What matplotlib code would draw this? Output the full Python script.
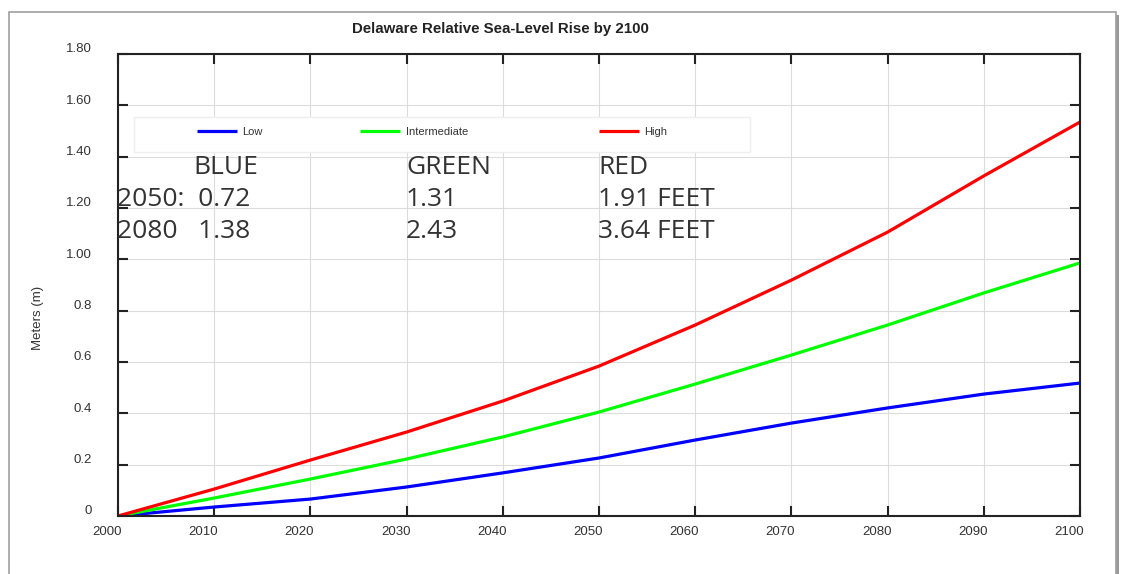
import matplotlib.pyplot as plt
from matplotlib.patches import Rectangle
from matplotlib.legend import Legend
from matplotlib.transforms import ScaledTranslation

# Data (meters)
years = [2000, 2010, 2020, 2030, 2040, 2050, 2060, 2070, 2080, 2090, 2100]
low = [0.0, 0.035, 0.066, 0.113, 0.168, 0.226, 0.296, 0.362, 0.421, 0.475, 0.518]
intermediate = [0.0, 0.070, 0.144, 0.222, 0.308, 0.405, 0.514, 0.627, 0.744, 0.869, 0.986]
high = [0.0, 0.105, 0.218, 0.327, 0.448, 0.584, 0.744, 0.919, 1.106, 1.325, 1.535]

ytick_vals = [0, 0.2, 0.4, 0.6, 0.8, 1.0, 1.2, 1.4, 1.6, 1.8]
ytick_labels = ['0', '0.2', '0.4', '0.6', '0.8', '1.00', '1.20', '1.40', '1.60', '1.80']
xtick_vals = list(range(2000, 2101, 10))

# annotation table (feet)
col_heads = ['BLUE', 'GREEN', 'RED']
row_2050 = ['2050:  0.72', '1.31', '1.91 FEET']
row_2080 = ['2080   1.38', '2.43', '3.64 FEET']

W, H = 1121, 574
fig = plt.figure(figsize=(W / 100, H / 100), dpi=100)
plt.rcParams['font.family'] = ['Liberation Sans', 'DejaVu Sans']

def px(x, y):
    # pixel coords (from top-left) -> figure fraction
    return x / W, 1 - y / H

# outer frame with a little shadow on the right
fig.patches.append(Rectangle(px(12, 590), (1119 - 12) / W, (590 - 15) / H,
                             transform=fig.transFigure, facecolor='#9a9a9a',
                             edgecolor='none', zorder=-2))
fig.patches.append(Rectangle(px(9, 590), (1116 - 9) / W, (590 - 12) / H,
                             transform=fig.transFigure, facecolor='white',
                             edgecolor='#a0a0a0', lw=1.2, zorder=-1))

ax = fig.add_axes([118 / W, 1 - 516 / H, (1080 - 118) / W, (516 - 54) / H])
ax.patch.set_alpha(0)

l1, = ax.plot(years, low, color='#0000ff', lw=2.3, label='Low', solid_capstyle='butt')
l2, = ax.plot(years, intermediate, color='#00ff00', lw=2.3, label='Intermediate', solid_capstyle='butt')
l3, = ax.plot(years, high, color='#ff0000', lw=2.3, label='High', solid_capstyle='butt')

ax.set_xlim(2000, 2100)
ax.set_ylim(0, 1.8)
ax.set_xticks(xtick_vals)
ax.set_yticks(ytick_vals)
ax.set_yticklabels(ytick_labels)
ax.grid(True, color='#dcdcdc', lw=0.8)
ax.set_axisbelow(True)
for s in ax.spines.values():
    s.set_color('#222222')
    s.set_linewidth(1.5)
ax.tick_params(direction='in', length=7, width=1.5, color='#222222',
               top=True, right=True, labelsize=9.5, labelcolor='#333333')
ax.tick_params(axis='y', pad=19)
ax.tick_params(axis='x', pad=7)

# the reference shifts tick labels a bit
for lab in ax.get_yticklabels():
    lab.set_transform(lab.get_transform() + ScaledTranslation(0, 6 / 100, fig.dpi_scale_trans))
for lab in ax.get_xticklabels():
    lab.set_transform(lab.get_transform() + ScaledTranslation(-11 / 100, 0, fig.dpi_scale_trans))

fig.text(*px(38, 318), 'Meters (m)', rotation=90, ha='center', va='center',
         fontsize=9.5, color='#333333')
fig.text(*px(500, 29), 'Delaware Relative Sea-Level Rise by 2100', ha='center',
         va='center', fontsize=10.8, fontweight='bold', color='#222222')

# legend box, then one legend per entry (spacing in the reference is uneven)
ax.add_patch(Rectangle(px(134, 152), (750 - 134) / W, (152 - 117) / H,
                       transform=fig.transFigure, facecolor='white',
                       edgecolor='#eeeeee', lw=1, zorder=3))
for line, xpos in zip([l1, l2, l3], [197, 360, 599]):
    leg = Legend(ax, [line], [line.get_label()], loc='center left',
                 bbox_to_anchor=px(xpos, 132), bbox_transform=fig.transFigure,
                 frameon=False, fontsize=8, handlelength=3.6, handletextpad=0.5,
                 borderaxespad=0, borderpad=0)
    leg.get_texts()[0].set_color('#333333')
    leg.set_zorder(4)
    ax.add_artist(leg)

# big annotation text
big = dict(fontsize=19, color='#333333', va='baseline', ha='left',
           family=['Open Sans', 'DejaVu Sans'], zorder=5)
col_x = [193, 406, 598]
for x, t in zip(col_x, col_heads):
    fig.text(*px(x, 174), t, **big)
for x, t in zip([117, 406, 598], row_2050):
    fig.text(*px(x, 206), t, **big)
for x, t in zip([117, 406, 598], row_2080):
    fig.text(*px(x, 238), t, **big)

fig.savefig('out.png', dpi=100)
